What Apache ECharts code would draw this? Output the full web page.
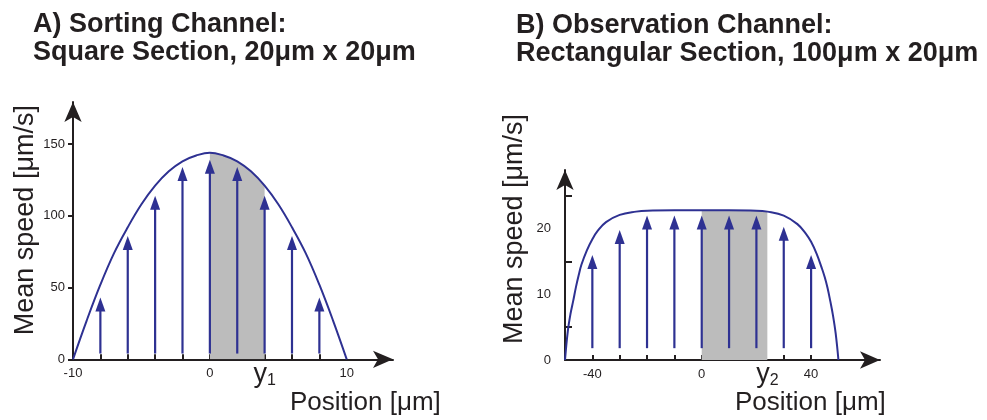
<!DOCTYPE html>
<html>
<head>
<meta charset="utf-8">
<script src="https://cdn.jsdelivr.net/npm/echarts@6/dist/echarts.min.js"></script>
<style>
  html, body { margin: 0; padding: 0; background: #fff; }
  #chart { width: 987px; height: 420px; }
</style>
</head>
<body>
<div id="chart"></div>
<script>
var myChart = echarts.init(document.getElementById('chart'));

// A) sorting channel: position (um) and mean speed (um/s)
var sortX = [-10, -9, -8, -7, -6, -5, -4, -3, -2, -1, 0, 1, 2, 3, 4, 5, 6, 7, 8, 9, 10];
var sortV = [0, 27, 52, 74, 92, 108, 121, 131, 138, 142, 144, 142, 138, 131, 121, 108, 92, 74, 52, 27, 0];
var sortArrowX = [-8, -6, -4, -2, 0, 2, 4, 6, 8];
var sortArrowV = [43, 86, 114, 134, 139, 134, 114, 86, 43];
var sortArrowBase = 4;
var sortShade = [0, 4];          // 0 .. y1
var sortTicksX = [-8, -6, -4, -2, 0, 2, 4, 6, 8];
var sortLabelsX = [-10, 0, 10];
var sortTicksY = [0, 50, 100, 150];

// B) observation channel
var obsX = [-50, -49, -48, -47, -46, -45, -44, -42, -40, -38, -35, -30, -24, -20, -10, 0, 10, 20, 24, 30, 35, 38, 40, 42, 44, 45, 46, 47, 48, 49, 50];
var obsV = [0, 4.3, 7.0, 9.0, 11.1, 12.9, 14.5, 16.7, 18.4, 19.7, 21.0, 22.1, 22.6, 22.75, 22.8, 22.8, 22.8, 22.75, 22.6, 22.0, 20.7, 19.3, 18.0, 16.2, 13.9, 12.6, 11.0, 9.0, 6.8, 4.0, 0];
var obsArrowX = [-40, -30, -20, -10, 0, 10, 20, 30, 40];
var obsArrowV = [16, 19.8, 22, 22, 22, 22, 22, 20.3, 16];
var obsArrowBase = 1.8;
var obsShade = [0, 24];          // 0 .. y2
var obsTicksX = [-40, -30, -20, -10, 0, 10, 20, 30, 40];
var obsLabelsX = [-40, 0, 40];
var obsMinorTicksY = [5, 15, 25];
var obsMajorTicksY = [10, 20];
var obsLabelsY = [0, 10, 20];

var blue = '#2e3192';
var ink = '#231f20';
var font = 'Liberation Sans, Arial, Helvetica, sans-serif';

function pairs(xs, vs) {
    return xs.map(function (x, i) { return [x, vs[i]]; });
}
function between(xs, vs, r) {
    return pairs(xs, vs).filter(function (p) { return p[0] >= r[0] && p[0] <= r[1]; });
}

function arrowSeries(idx, xs, vs, base) {
    return {
        type: 'custom',
        xAxisIndex: idx, yAxisIndex: idx,
        z: 3,
        data: pairs(xs, vs),
        renderItem: function (params, api) {
            var p0 = api.coord([api.value(0), base]);
            var p1 = api.coord([api.value(0), api.value(1)]);
            return {
                type: 'group',
                children: [{
                    type: 'line',
                    shape: { x1: p0[0], y1: p0[1], x2: p1[0], y2: p1[1] + 10 },
                    style: { stroke: blue, lineWidth: 2.2 }
                }, {
                    type: 'polygon',
                    shape: { points: [[p1[0] - 5, p1[1] + 14], [p1[0] + 5, p1[1] + 14], [p1[0], p1[1]]] },
                    style: { fill: blue }
                }]
            };
        }
    };
}

var axisLineStyle = { show: true, onZero: false, symbol: ['none', 'arrow'], symbolSize: [13, 20], lineStyle: { color: ink, width: 2 } };
var labelStyle = { color: ink, fontSize: 13, fontFamily: font };

// y1 / y2 marker labels sit on an extra, invisible x axis under each plot
function markerAxis(grid, min, max, at, sub) {
    return {
        gridIndex: grid, type: 'value', min: min, max: max, position: 'bottom', offset: 0,
        axisLine: { show: false }, axisTick: { show: false }, splitLine: { show: false },
        axisLabel: {
            margin: 5, customValues: [at],
            formatter: function () { return '{y|y}{s|' + sub + '}'; },
            rich: {
                y: { fontSize: 27, fontFamily: font, color: ink, lineHeight: 20 },
                s: { fontSize: 16, fontFamily: font, color: ink, lineHeight: 20, padding: [12, 0, 0, 0] }
            }
        }
    };
}

var titleStyle = { fontSize: 27, fontWeight: 'bold', fontFamily: font, color: ink, lineHeight: 28 };
var nameStyle = { fontSize: 26, fontWeight: 'normal', fontFamily: font, color: ink };

var option = {
    animation: false,
    title: [{
        text: 'A) Sorting Channel:\nSquare Section, 20μm x 20μm',
        left: 33, top: 11, padding: 0, textStyle: titleStyle
    }, {
        text: 'B) Observation Channel:\nRectangular Section, 100μm x 20μm',
        left: 516, top: 12, padding: 0, textStyle: titleStyle
    }, {
        text: 'Position [μm]',
        left: 290, top: 390, padding: 0, textStyle: nameStyle
    }, {
        text: 'Position [μm]',
        left: 735, top: 390, padding: 0, textStyle: nameStyle
    }],
    grid: [
        { left: 73, top: 102, width: 320, height: 257.3 },
        { left: 565, top: 170, width: 315, height: 190 }
    ],
    xAxis: [{
        gridIndex: 0, type: 'value', min: -10, max: 13.38,
        axisLine: axisLineStyle, splitLine: { show: false },
        axisTick: { show: true, inside: true, length: 5, customValues: sortTicksX, lineStyle: { color: ink, width: 2 } },
        axisLabel: Object.assign({ margin: 8, customValues: sortLabelsX }, labelStyle)
    }, {
        gridIndex: 1, type: 'value', min: -50, max: 65.2,
        axisLine: axisLineStyle, splitLine: { show: false },
        axisTick: { show: true, inside: true, length: 5, customValues: obsTicksX, lineStyle: { color: ink, width: 2 } },
        axisLabel: Object.assign({ margin: 8, customValues: obsLabelsX }, labelStyle)
    },
        markerAxis(0, -10, 13.38, sortShade[1], '1'),
        markerAxis(1, -50, 65.2, obsShade[1], '2')
    ],
    yAxis: [{
        gridIndex: 0, type: 'value', min: 0, max: 179.3,
        axisLine: axisLineStyle, splitLine: { show: false },
        name: 'Mean speed [μm/s]', nameLocation: 'middle', nameGap: 34, nameRotate: 90,
        nameTextStyle: { fontSize: 27, fontFamily: font, color: ink, padding: [0, 0, 0, 21] },
        axisTick: { show: true, inside: false, length: 5, customValues: sortTicksY, lineStyle: { color: ink, width: 2 } },
        axisLabel: Object.assign({ margin: 8, customValues: sortTicksY }, labelStyle)
    }, {
        gridIndex: 1, type: 'value', min: 0, max: 28.94,
        axisLine: axisLineStyle, splitLine: { show: false },
        name: 'Mean speed [μm/s]', nameLocation: 'middle', nameGap: 37, nameRotate: 90,
        nameTextStyle: { fontSize: 27, fontFamily: font, color: ink, padding: [0, 0, 0, 72] },
        axisTick: { show: true, inside: true, length: 7, customValues: obsMinorTicksY, lineStyle: { color: ink, width: 2 } },
        axisLabel: Object.assign({ margin: 14, customValues: obsLabelsY }, labelStyle)
    }, {
        // longer ticks at the labelled values
        gridIndex: 1, type: 'value', min: 0, max: 28.94, position: 'left', offset: 0,
        axisLine: { show: true, lineStyle: { color: 'rgba(0,0,0,0)', width: 0 } },
        splitLine: { show: false },
        axisLabel: { show: true, customValues: obsMajorTicksY, formatter: function () { return ''; } },
        axisTick: { show: true, inside: true, length: 10, customValues: obsMajorTicksY, lineStyle: { color: ink, width: 2 } }
    }],
    series: [
        {
            type: 'line', xAxisIndex: 0, yAxisIndex: 0, z: 1,
            data: between(sortX, sortV, sortShade), smooth: 0.4, symbol: 'none',
            lineStyle: { width: 0 }, areaStyle: { color: '#bcbcbc', opacity: 1 }
        },
        {
            type: 'line', xAxisIndex: 1, yAxisIndex: 1, z: 1,
            data: between(obsX, obsV, obsShade), smooth: 0.4, symbol: 'none',
            lineStyle: { width: 0 }, areaStyle: { color: '#bcbcbc', opacity: 1 }
        },
        arrowSeries(0, sortArrowX, sortArrowV, sortArrowBase),
        arrowSeries(1, obsArrowX, obsArrowV, obsArrowBase),
        {
            type: 'line', xAxisIndex: 0, yAxisIndex: 0, z: 4,
            data: pairs(sortX, sortV), smooth: 0.4, symbol: 'none',
            lineStyle: { color: blue, width: 2 }
        },
        {
            type: 'line', xAxisIndex: 1, yAxisIndex: 1, z: 4,
            data: pairs(obsX, obsV), smooth: 0.4, symbol: 'none',
            lineStyle: { color: blue, width: 2 }
        }
    ]
};

myChart.setOption(option);
</script>
</body>
</html>
